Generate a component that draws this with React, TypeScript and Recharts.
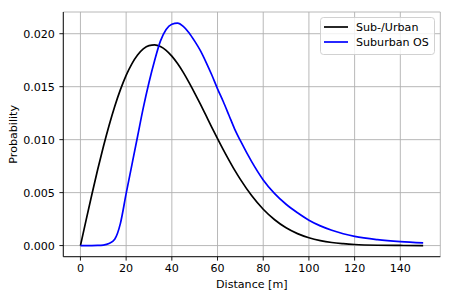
import { LineChart, Line, XAxis, YAxis, CartesianGrid } from "recharts"

document.body.style.margin = "0"

const distances = [
  0, 2.5, 5, 7.5, 10, 12.5, 15, 17.5, 20, 22.5, 25, 27.5, 30, 32.5, 35, 37.5, 40, 42.5, 45, 47.5, 50,
  52.5, 55, 57.5, 60, 62.5, 65, 67.5, 70, 75, 80, 85, 90, 95, 100, 105, 110, 115, 120, 130, 140, 150,
]

const subUrban = [
  0, 0.00243, 0.00482, 0.00713, 0.0093, 0.01131, 0.01313, 0.01472, 0.01607, 0.01716, 0.01799, 0.01857,
  0.01888, 0.01895, 0.01879, 0.01843, 0.01788, 0.01718, 0.01635, 0.01541, 0.0144, 0.01335, 0.01226,
  0.01117, 0.0101, 0.00906, 0.00807, 0.00712, 0.00625, 0.0047, 0.00343, 0.00244, 0.00168, 0.00113,
  0.00074, 0.00047, 0.00029, 0.00018, 0.0001, 0.00003, 0.00001, 0,
]

const suburbanOS = [
  0, 0, 0, 0.00001, 0.00005, 0.0002, 0.0006, 0.0021, 0.0049, 0.0076, 0.0103, 0.013, 0.0154, 0.0175,
  0.0193, 0.0204, 0.0209, 0.021, 0.0207, 0.0201, 0.0193, 0.0184, 0.0173, 0.0161, 0.0148, 0.0136,
  0.0123, 0.011, 0.0099, 0.0079, 0.0062, 0.0049, 0.0039, 0.0031, 0.0024, 0.00186, 0.00145, 0.00112,
  0.00087, 0.00056, 0.00037, 0.00025,
]

const xTicks = [0, 20, 40, 60, 80, 100, 120, 140]
const yTicks = [0, 0.005, 0.01, 0.015, 0.02]

const data = distances.map((d, i) => ({ d, urban: subUrban[i], os: suburbanOS[i] }))

const font = "'DejaVu Sans', sans-serif"
const fs = 11.1
const tickStyle = { fontSize: fs, fontFamily: font, fill: "#000" }
const xDomain = [-7.5, 157.5]
const yDomain = [-0.00105, 0.02205]

export default function App() {
  return (
    <div style={{ position: "relative", width: 452, height: 299, background: "#fff" }}>
      <LineChart width={452} height={299} data={data} margin={{ top: 12, right: 11.7, bottom: 0, left: 0 }}>
        <CartesianGrid stroke="#b0b0b0" strokeWidth={0.9} />
        <XAxis
          dataKey="d"
          type="number"
          domain={xDomain}
          ticks={xTicks}
          allowDataOverflow
          height={42.3}
          tick={tickStyle}
          tickSize={3.9}
          tickMargin={4}
          axisLine={{ stroke: "#000", strokeWidth: 0.9 }}
          tickLine={{ stroke: "#000", strokeWidth: 0.9 }}
          label={() => (
            <text x={251.8} y={288} textAnchor="middle" fontSize={fs} fontFamily={font} fill="#000">
              Distance [m]
            </text>
          )}
        />
        <XAxis
          xAxisId="top"
          orientation="top"
          type="number"
          domain={xDomain}
          allowDataOverflow
          height={0}
          tick={false}
          tickLine={false}
          axisLine={{ stroke: "#000", strokeWidth: 0.9 }}
        />
        <YAxis
          type="number"
          domain={yDomain}
          ticks={yTicks}
          allowDataOverflow
          width={63.3}
          tick={tickStyle}
          tickSize={3.9}
          tickMargin={4.5}
          tickFormatter={(v: number) => v.toFixed(3)}
          axisLine={{ stroke: "#000", strokeWidth: 0.9 }}
          tickLine={{ stroke: "#000", strokeWidth: 0.9 }}
          label={() => (
            <text
              x={16.7}
              y={134.3}
              transform="rotate(-90 16.7 134.3)"
              textAnchor="middle"
              fontSize={fs}
              fontFamily={font}
              fill="#000"
            >
              Probability
            </text>
          )}
        />
        <YAxis
          yAxisId="right"
          orientation="right"
          type="number"
          domain={yDomain}
          allowDataOverflow
          width={0}
          tick={false}
          tickLine={false}
          axisLine={{ stroke: "#000", strokeWidth: 0.9 }}
        />
        <Line type="monotone" dataKey="urban" stroke="#000000" strokeWidth={1.7} dot={false} isAnimationActive={false} />
        <Line type="monotone" dataKey="os" stroke="#0000ff" strokeWidth={1.7} dot={false} isAnimationActive={false} />
      </LineChart>
      <svg
        width={115}
        height={38}
        style={{ position: "absolute", left: 320, top: 17 }}
      >
        <rect x={0.5} y={0.5} width={114} height={37} rx={3} fill="rgba(255,255,255,0.8)" stroke="#cccccc" strokeWidth={0.9} />
        <line x1={4} x2={28} y1={10} y2={10} stroke="#000000" strokeWidth={1.7} />
        <text x={36} y={14} fontSize={fs} fontFamily={font} fill="#000">Sub-/Urban</text>
        <line x1={4} x2={28} y1={25} y2={25} stroke="#0000ff" strokeWidth={1.7} />
        <text x={36} y={29} fontSize={fs} fontFamily={font} fill="#000">Suburban OS</text>
      </svg>
    </div>
  )
}
